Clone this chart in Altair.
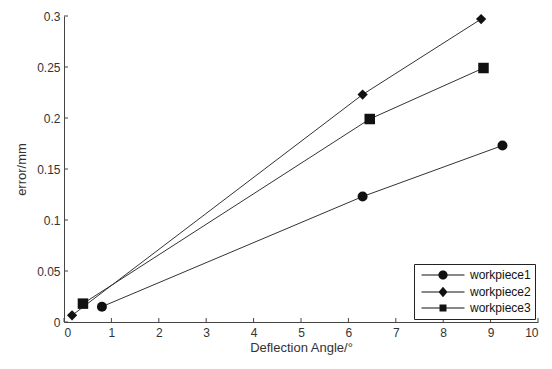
import altair as alt
import pandas as pd

series_names = ["workpiece1", "workpiece2", "workpiece3"]
wp1_x = [0.8, 6.3, 9.25]
wp1_y = [0.015, 0.123, 0.173]
wp2_x = [0.17, 6.3, 8.8]
wp2_y = [0.0065, 0.223, 0.297]
wp3_x = [0.4, 6.45, 8.85]
wp3_y = [0.018, 0.199, 0.249]
x_ticks = [0, 1, 2, 3, 4, 5, 6, 7, 8, 9, 10]
y_ticks = [0, 0.05, 0.1, 0.15, 0.2, 0.25, 0.3]

rows = []
for name, xs, ys in zip(series_names, [wp1_x, wp2_x, wp3_x], [wp1_y, wp2_y, wp3_y]):
    for a, b in zip(xs, ys):
        rows.append({"series": name, "angle": a, "error": b})
df = pd.DataFrame(rows)

W, H = 474, 306
FONT = "Liberation Sans"

xscale = alt.Scale(domain=[0, 10], nice=False)
yscale = alt.Scale(domain=[0, 0.3], nice=False)

xaxis = alt.Axis(values=x_ticks, title="Deflection Angle/°", grid=False, tickSize=0,
                 labelPadding=5, labelFontSize=12, labelColor="#333", titleFontSize=13,
                 titleFontWeight="normal", titleColor="#333", domainColor="#444",
                 labelFont=FONT, titleFont=FONT, titlePadding=3)
yaxis = alt.Axis(values=y_ticks, title="error/mm", grid=False, tickSize=0, format="~g",
                 labelPadding=4, labelFontSize=12, labelColor="#333", titleFontSize=13,
                 titleFontWeight="normal", titleColor="#333", domainColor="#444",
                 labelFont=FONT, titleFont=FONT, titlePadding=8)

base = alt.Chart(df)

lines = base.mark_line(color="#333", strokeWidth=1).encode(
    x=alt.X("angle:Q", scale=xscale, axis=xaxis),
    y=alt.Y("error:Q", scale=yscale, axis=yaxis),
    detail="series:N",
)

points = base.mark_point(filled=True, color="#111", opacity=1).encode(
    x=alt.X("angle:Q", scale=xscale),
    y=alt.Y("error:Q", scale=yscale),
    shape=alt.Shape("series:N", scale=alt.Scale(domain=series_names, range=["circle", "diamond", "square"]), legend=None),
    size=alt.Size("series:N", scale=alt.Scale(domain=series_names, range=[100, 110, 55]), legend=None),
)

# legend symbols: a thin filled bar (the line) plus the marker, in unit coordinates
bar = "M-3.58,-0.083H3.58V0.083H-3.58Z"
circle_path = bar + "M-0.77,0A0.77,0.77,0,1,1,0.77,0A0.77,0.77,0,1,1,-0.77,0Z"
diamond_path = bar + "M0,-0.87L0.75,0L0,0.87L-0.75,0Z"
square_path = bar + "M-0.58,-0.58H0.58V0.58H-0.58Z"

legend_layer = base.transform_filter("datum.angle < 0").mark_point(
    filled=True, color="#111", opacity=1
).encode(
    x=alt.X("angle:Q", scale=xscale),
    y=alt.Y("error:Q", scale=yscale),
    shape=alt.Shape("series:N",
                    scale=alt.Scale(domain=series_names, range=[circle_path, diamond_path, square_path]),
                    legend=alt.Legend(title=None, orient="bottom-right", offset=3,
                                      strokeColor="#222", fillColor="white", padding=4,
                                      labelFontSize=12, labelColor="#111", labelFont=FONT,
                                      symbolSize=144, symbolOffset=18,
                                      symbolFillColor="#111", symbolOpacity=1,
                                      rowPadding=0, labelOffset=20)),
)

xt = alt.Chart(pd.DataFrame({"t": x_ticks})).mark_rule(color="#444", strokeWidth=1).encode(
    x=alt.X("t:Q", scale=xscale), y=alt.value(H), y2=alt.value(H - 4))
yt = alt.Chart(pd.DataFrame({"t": y_ticks})).mark_rule(color="#444", strokeWidth=1).encode(
    y=alt.Y("t:Q", scale=yscale), x=alt.value(0), x2=alt.value(4))

chart = alt.layer(lines, xt, yt, points, legend_layer).resolve_scale(
    shape="independent", size="independent"
).properties(
    width=W, height=H,
    autosize=alt.AutoSizeParams(type="none"),
    padding={"left": 56, "top": 8, "right": 6, "bottom": 35},
).configure_view(stroke=None)

chart.save("out.html", embed_options={"renderer": "svg", "actions": False})
